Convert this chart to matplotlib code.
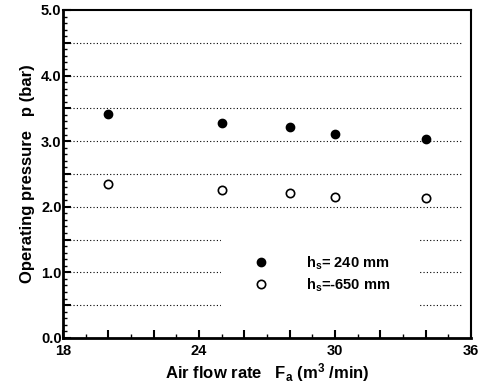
import matplotlib
matplotlib.use("Agg")
import matplotlib.pyplot as plt
from matplotlib.ticker import MultipleLocator, FuncFormatter

plt.rcParams['font.family'] = ['Liberation Sans', 'DejaVu Sans']
plt.rcParams['font.weight'] = 'bold'
plt.rcParams['mathtext.fontset'] = 'custom'
plt.rcParams['mathtext.rm'] = 'Liberation Sans:bold'
plt.rcParams['mathtext.it'] = 'Liberation Sans:bold'
plt.rcParams['mathtext.bf'] = 'Liberation Sans:bold'

flow_high = [20, 25, 28, 30, 34]
p_high = [3.41, 3.27, 3.22, 3.11, 3.03]
flow_low = [20, 25, 28, 30, 34]
p_low = [2.34, 2.25, 2.21, 2.15, 2.13]
label_high = r"h$_\mathrm{s}$= 240 mm"
label_low = r"h$_\mathrm{s}$=-650 mm"

fig = plt.figure(figsize=(4.88, 3.84), dpi=100)
ax = fig.add_axes([0.129, 0.120, 0.836, 0.854])

ax.set_xlim(18, 36)
ax.set_ylim(0, 5)

for yv in [0.5, 1.0, 1.5, 2.0, 2.5, 3.0, 3.5, 4.0, 4.5]:
    ax.axhline(yv, xmin=0.0, xmax=0.975, color='black', linestyle=(0, (1, 2)), linewidth=0.8, zorder=1)

ax.plot(flow_high, p_high, 'o', color='black', markersize=6, zorder=4, label=label_high)
ax.plot(flow_low, p_low, 'o', markerfacecolor='white', markeredgecolor='black',
        markeredgewidth=1.2, markersize=6, zorder=4, label=label_low)

ax.xaxis.set_major_locator(MultipleLocator(2))
ax.xaxis.set_minor_locator(MultipleLocator(1))
ax.xaxis.set_major_formatter(FuncFormatter(lambda v, p: f"{int(round(v))}" if int(round(v)) % 6 == 0 else ""))
ax.yaxis.set_major_locator(MultipleLocator(0.5))
ax.yaxis.set_minor_locator(MultipleLocator(0.1))
ax.yaxis.set_major_formatter(FuncFormatter(lambda v, p: f"{v:.1f}" if abs(v - round(v)) < 1e-6 else ""))

ax.tick_params(which='major', direction='in', length=6, width=1.5, labelsize=10.5, top=False, right=False)
ax.tick_params(axis='x', which='major', pad=4.5)
ax.tick_params(axis='y', which='major', pad=1)
ax.tick_params(which='minor', direction='in', length=3, width=1.0, top=False, right=False)
for lab in ax.get_xticklabels() + ax.get_yticklabels():
    lab.set_fontweight('bold')

for s in ['left', 'bottom']:
    ax.spines[s].set_linewidth(2.0)
for s in ['top', 'right']:
    ax.spines[s].set_linewidth(1.5)

ax.set_xlabel(r"Air flow rate   F$_\mathrm{a}$ (m$^\mathrm{3}$ /min)", fontsize=12, fontweight='bold', labelpad=2)
ax.set_ylabel("Operating pressure   p (bar)", fontsize=12, fontweight='bold', labelpad=4)

leg = ax.legend(loc='center', bbox_to_anchor=(0.63, 0.195), frameon=True, fancybox=False,
                edgecolor='none', facecolor='white', framealpha=1, fontsize=10.5,
                borderpad=2.0, handletextpad=2.3, labelspacing=0.3, handlelength=1.5,
                borderaxespad=0)
leg.set_zorder(3)
for t in leg.get_texts():
    t.set_fontweight('bold')

fig.savefig("out.png", dpi=100)
